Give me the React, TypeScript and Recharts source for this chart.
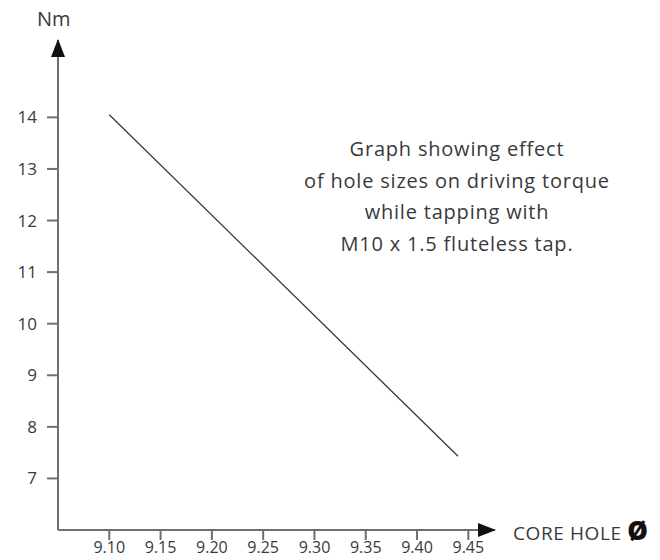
import React from 'react';
import { LineChart, Line, XAxis, YAxis } from 'recharts';

const holeSizes = [9.1, 9.44];
const torqueNm = [14.05, 7.43];
const xTicks = [9.1, 9.15, 9.2, 9.25, 9.3, 9.35, 9.4, 9.45];
const yTicks = [7, 8, 9, 10, 11, 12, 13, 14];
const xDomain: [number, number] = [9.05, 9.476];
const yDomain: [number, number] = [6, 15.5];
const noteLines = [
  'Graph showing effect',
  'of hole sizes on driving torque',
  'while tapping with',
  'M10 x 1.5 fluteless tap.',
];

const data = holeSizes.map((x, i) => ({ x, y: torqueNm[i] }));

const FONT = '"Open Sans", Lato, "DejaVu Sans", sans-serif';
const AXIS = '#6f6f6f';
const TEXT = '#3a3a3a';

export default function App() {
  return (
    <div style={{ position: 'absolute', left: 0, top: 0, width: 660, height: 560, background: '#fff' }}>
      <svg width={0} height={0} style={{ position: 'absolute' }}>
        <defs>
          <marker
            id="arrowHead"
            viewBox="0 0 18 14"
            refX={17}
            refY={7}
            markerWidth={18}
            markerHeight={14}
            markerUnits="userSpaceOnUse"
            orient="auto-start-reverse"
          >
            <path d="M0,0 L18,7 L0,14 z" fill="#111" />
          </marker>
        </defs>
      </svg>
      <LineChart
        width={660}
        height={560}
        data={data}
        margin={{ top: 40, right: 165, bottom: 0, left: 0 }}
      >
        <XAxis
          dataKey="x"
          type="number"
          domain={xDomain}
          ticks={xTicks}
          allowDataOverflow
          height={30}
          tickFormatter={(v: number) => v.toFixed(2)}
          tick={{ fill: TEXT, fontSize: 16, fontFamily: FONT }}
          tickSize={10}
          tickMargin={2}
          tickLine={{ stroke: AXIS, strokeWidth: 2 }}
          axisLine={{ stroke: AXIS, strokeWidth: 2, markerEnd: 'url(#arrowHead)' }}
          interval={0}
        />
        <YAxis
          dataKey="y"
          type="number"
          domain={yDomain}
          ticks={yTicks}
          allowDataOverflow
          width={58}
          tick={{ fill: TEXT, fontSize: 17, fontFamily: FONT }}
          tickSize={11}
          tickMargin={10}
          tickLine={{ stroke: AXIS, strokeWidth: 2 }}
          axisLine={{ stroke: AXIS, strokeWidth: 2, markerStart: 'url(#arrowHead)' }}
          interval={0}
        />
        <Line
          type="linear"
          dataKey="y"
          stroke="#333"
          strokeWidth={1.2}
          dot={false}
          isAnimationActive={false}
        />
      </LineChart>
      <div
        style={{
          position: 'absolute',
          left: 37,
          top: 7,
          fontFamily: FONT,
          fontSize: 20,
          color: TEXT,
          lineHeight: '24px',
        }}
      >
        Nm
      </div>
      <div
        style={{
          position: 'absolute',
          left: 513,
          top: 516,
          fontFamily: FONT,
          fontSize: 19,
          letterSpacing: 0.6,
          color: TEXT,
          lineHeight: '28px',
          whiteSpace: 'nowrap',
        }}
      >
        CORE HOLE <span style={{ fontWeight: 900, fontSize: 26, color: '#111' }}>Ø</span>
      </div>
      <div
        style={{
          position: 'absolute',
          left: 280,
          top: 133,
          width: 354,
          textAlign: 'center',
          fontFamily: FONT,
          fontSize: 20,
          letterSpacing: 0.8,
          color: TEXT,
          lineHeight: '31.5px',
        }}
      >
        {noteLines.map((l) => (
          <div key={l}>{l}</div>
        ))}
      </div>
    </div>
  );
}
